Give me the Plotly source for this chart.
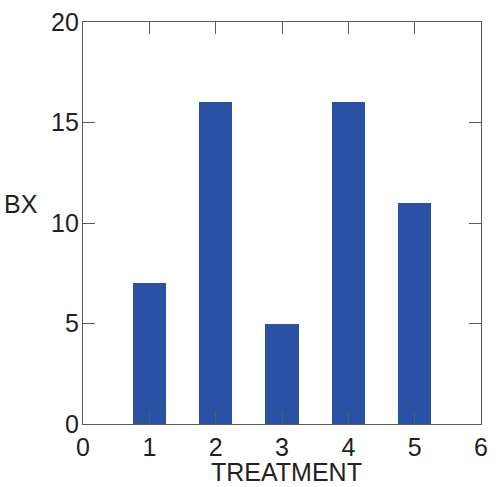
import plotly.graph_objects as go

treatments = [1, 2, 3, 4, 5]
bx_values = [7, 16, 5, 16, 11]
x_ticks = [0, 1, 2, 3, 4, 5, 6]
y_ticks = [0, 5, 10, 15, 20]

bar_color = "#2A51A4"
axis_color = "#5a5a5a"
text_color = "#231f20"
font_family = "Liberation Sans, Arial, sans-serif"

fig = go.Figure()
fig.add_trace(go.Bar(x=treatments, y=bx_values, width=0.5,
                     marker=dict(color=bar_color, line=dict(width=0))))

axis_common = dict(showgrid=False, zeroline=False, showline=True, linecolor=axis_color,
                   linewidth=1.2, mirror="ticks", ticks="inside", ticklen=12,
                   tickcolor=axis_color, tickwidth=1.2,
                   tickfont=dict(family=font_family, size=25, color=text_color))

fig.update_xaxes(range=[0, 6], tickvals=x_ticks, ticktext=[str(v) for v in x_ticks],
                 ticklabelstandoff=1, **axis_common)
fig.update_yaxes(range=[0, 20], tickvals=y_ticks, ticktext=[str(v) for v in y_ticks],
                 ticklabelstandoff=-2, **axis_common)

fig.add_annotation(text="BX", xref="paper", yref="paper", x=-0.108, y=0.548,
                   xanchor="right", yanchor="middle", showarrow=False,
                   font=dict(family=font_family, size=25, color=text_color))
fig.add_annotation(text="TREATMENT", xref="paper", yref="paper", x=0.512, y=-0.12,
                   xanchor="center", yanchor="middle", showarrow=False,
                   font=dict(family=font_family, size=25, color=text_color))

fig.update_layout(width=496, height=487, margin=dict(l=83, r=8, t=20, b=63),
                  plot_bgcolor="white", paper_bgcolor="white", showlegend=False,
                  bargap=0)

# Remove the default page margin so the figure fills the window exactly.
fig.write_html("out.html", config={"displayModeBar": False},
               post_script="document.body.style.margin='0';document.body.style.padding='0';")
